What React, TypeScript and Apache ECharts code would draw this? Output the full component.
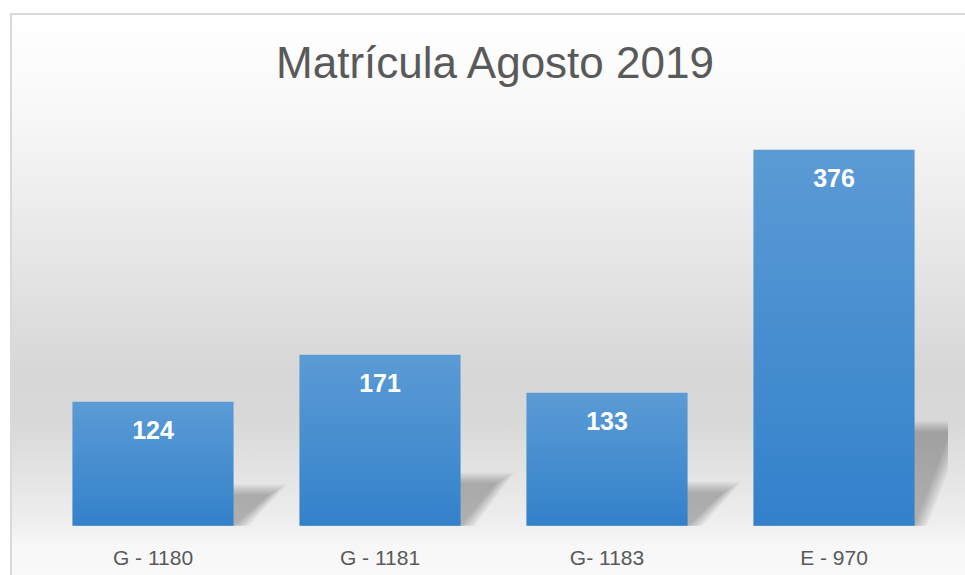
import React, { useEffect, useRef } from "react";
import * as echarts from "echarts";

const titleText = "Matrícula Agosto 2019";
const categories = ["G - 1180", "G - 1181", "G- 1183", "E - 970"];
const values = [124, 171, 133, 376];

export default function App() {
  const ref = useRef<HTMLDivElement>(null);
  useEffect(() => {
    document.body.style.margin = "0";
    const chart = echarts.init(ref.current!, null, { renderer: "svg" });
    const option = {
      animation: false,
      title: {
        text: titleText,
        left: 490,
        top: 35,
        textAlign: "center",
        textStyle: {
          fontFamily: "Liberation Sans",
          fontSize: 44,
          fontWeight: "normal",
          color: "#595959",
        },
      },
      graphic: [
        {
          type: "rect",
          z: -10,
          silent: true,
          shape: { x: 11, y: 14, width: 1000, height: 600 },
          style: {
            stroke: "#d9d9d9",
            lineWidth: 2,
            fill: new echarts.graphic.LinearGradient(0, 0, 0, 1, [
              { offset: 0, color: "#ffffff" },
              { offset: 0.143, color: "#f9f9f9" },
              { offset: 0.393, color: "#e7e7e7" },
              { offset: 0.593, color: "#d7d7d7" },
              { offset: 0.677, color: "#d8d8d8" },
              { offset: 0.777, color: "#e5e5e5" },
              { offset: 0.852, color: "#efefef" },
              { offset: 0.885, color: "#f7f7f7" },
              { offset: 1, color: "#fbfbfb" },
            ]),
          },
        },
      ],
      grid: { left: 39.5, right: 17.5, top: 125.7, bottom: 49.3 },
      xAxis: {
        type: "category",
        data: categories,
        axisLine: { show: false },
        axisTick: { show: false },
        axisLabel: {
          margin: 21,
          fontFamily: "Liberation Sans",
          fontSize: 21,
          color: "#595959",
        },
      },
      yAxis: {
        type: "value",
        min: 0,
        max: 400,
        show: false,
        splitLine: { show: false },
      },
      series: [
        {
          type: "custom",
          z: 1,
          silent: true,
          clip: true,
          data: values.map((v, i) => [i, v]),
          renderItem: (params: any, api: any) => {
            const idx = api.value(0);
            const v = api.value(1);
            const base = api.coord([idx, 0]);
            const top = api.coord([idx, v]);
            const bw = api.size([1, 0])[0] * 0.71;
            const h = (base[1] - top[1]) * 0.25;
            const shift = 36;
            const x0 = base[0] - bw / 2;
            const x1 = base[0] + bw / 2;
            const y0 = base[1];
            const layers = [];
            const n = 9;
            for (let k = 0; k < n; k++) {
              const e = k * 2.2;
              layers.push({
                type: "polygon",
                shape: {
                  points: [
                    [x0, y0 + e * 0.3],
                    [x1 + e * 0.6, y0 + e * 0.3],
                    [x1 + shift + e, y0 - h - e * 0.6],
                    [x0 + shift, y0 - h - e * 0.6],
                  ],
                },
                style: { fill: "rgba(0,0,0,0.032)" },
              });
            }
            return { type: "group", children: layers };
          },
        },
        {
          type: "bar",
          z: 2,
          data: values,
          barCategoryGap: "29%",
          itemStyle: {
            color: new echarts.graphic.LinearGradient(0, 0, 0, 1, [
              { offset: 0, color: "#5b9bd5" },
              { offset: 1, color: "#3381cb" },
            ]),
          },
          label: {
            show: true,
            position: "insideTop",
            distance: 16,
            color: "#ffffff",
            fontFamily: "Liberation Sans",
            fontWeight: "bold",
            fontSize: 25,
          },
        },
      ],
    };
    chart.setOption(option as any);
    return () => chart.dispose();
  }, []);
  return (
    <div
      ref={ref}
      style={{ position: "absolute", left: 0, top: 0, width: 965, height: 575 }}
    />
  );
}
